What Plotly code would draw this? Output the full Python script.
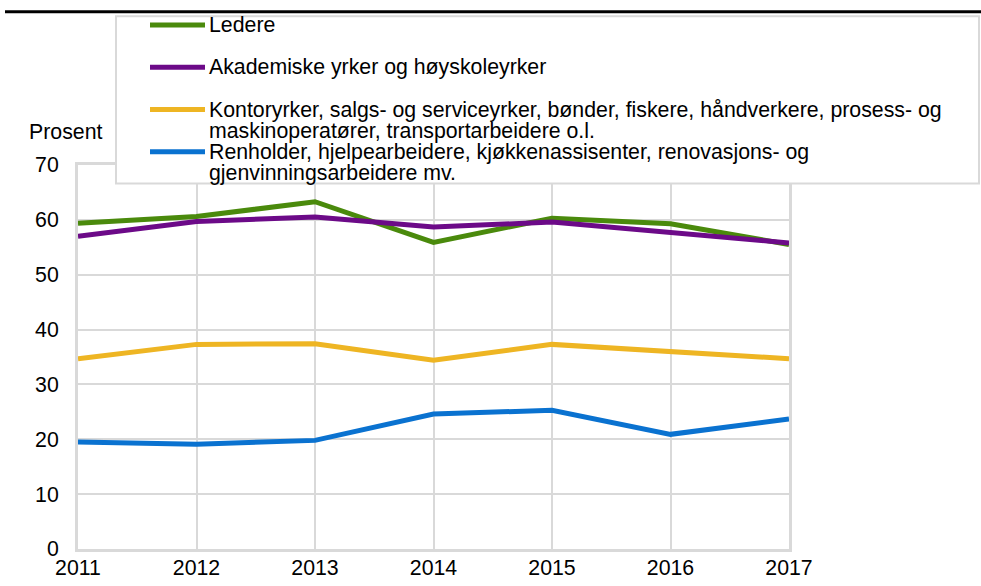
import plotly.graph_objects as go

# ---------------- data ----------------
years = [2011, 2012, 2013, 2014, 2015, 2016, 2017]
ledere = [59.4, 60.6, 63.3, 55.9, 60.3, 59.3, 55.5]
akademiske = [57.0, 59.7, 60.5, 58.7, 59.6, 57.6, 55.8]
kontor = [34.7, 37.3, 37.4, 34.4, 37.3, 36.1, 34.7]
renholder = [19.5, 19.1, 19.8, 24.6, 25.3, 20.9, 23.7]

series_labels = [
    "Ledere",
    "Akademiske yrker og høyskoleyrker",
    "Kontoryrker, salgs- og serviceyrker, bønder, fiskere, håndverkere, prosess- og<br>maskinoperatører, transportarbeidere o.l.",
    "Renholder, hjelpearbeidere, kjøkkenassisenter, renovasjons- og<br>gjenvinningsarbeidere mv.",
]
series_values = [ledere, akademiske, kontor, renholder]
y_ticks = [0, 10, 20, 30, 40, 50, 60, 70]
y_title = "Prosent"

# ---------------- styling ----------------
colors = ["#4A8A0C", "#6C0A88", "#EEB523", "#0A72D0"]
FONT = "Liberation Sans, Arial, sans-serif"
FS = 21.3
GRID = "#D9D9D9"

W, H = 981, 586
L, R, T, B = 78, 789, 164.5, 549  # plot area in pixels


def px(x):
    return (x - L) / (R - L)


def py(y):
    return (B - y) / (B - T)


fig = go.Figure()
for name, vals, col in zip(series_labels, series_values, colors):
    fig.add_trace(go.Scatter(
        x=years, y=vals, mode="lines",
        name=name.replace("<br>", " "),
        line=dict(color=col, width=5),
        showlegend=False,
    ))

shapes = []
annotations = []

# top rule
shapes.append(dict(type="line", xref="paper", yref="paper",
                   x0=px(5), x1=px(981), y0=py(11), y1=py(11),
                   line=dict(color="black", width=3), layer="above"))

# legend box
shapes.append(dict(type="rect", xref="paper", yref="paper",
                   x0=px(116), x1=px(979), y0=py(15.5), y1=py(183),
                   line=dict(color=GRID, width=2), fillcolor="white", layer="above"))

key_y = [24.3, 66.7, 109, 151.3]
line_gap = 21
for i, (name, col) in enumerate(zip(series_labels, colors)):
    yk = key_y[i]
    shapes.append(dict(type="line", xref="paper", yref="paper",
                       x0=px(150), x1=px(205), y0=py(yk), y1=py(yk),
                       line=dict(color=col, width=5), layer="above"))
    for j, part in enumerate(name.split("<br>")):
        annotations.append(dict(
            xref="paper", yref="paper", x=px(207), y=py(yk + j * line_gap),
            xanchor="left", yanchor="middle", text=part, showarrow=False,
            font=dict(family=FONT, size=FS, color="black"),
        ))

# y axis title
annotations.append(dict(
    xref="paper", yref="paper", x=px(65), y=py(131),
    xanchor="center", yanchor="middle", text=y_title, showarrow=False,
    font=dict(family=FONT, size=FS, color="black"),
))

fig.update_layout(
    width=W, height=H,
    margin=dict(l=L, r=W - R, t=T, b=H - B, pad=0, autoexpand=False),
    paper_bgcolor="white", plot_bgcolor="white",
    font=dict(family=FONT, size=FS, color="black"),
    shapes=shapes, annotations=annotations,
    showlegend=False,
)
fig.update_xaxes(
    range=[years[0], years[-1]], tickmode="array", tickvals=years,
    ticktext=[str(y) for y in years],
    showgrid=True, gridcolor=GRID, gridwidth=2,
    showline=True, linecolor=GRID, linewidth=3, mirror=True,
    zeroline=False, ticks="", ticklabelstandoff=-3, automargin=False,
)
fig.update_yaxes(
    range=[0, 70], tickmode="array", tickvals=y_ticks,
    showgrid=True, gridcolor=GRID, gridwidth=2,
    showline=True, linecolor=GRID, linewidth=3, mirror=True,
    zeroline=False, ticks="", ticklabelstandoff=12, automargin=False,
)

fig.write_html(
    "out.html",
    config={"displayModeBar": False},
    post_script="document.body.style.margin='0';document.body.style.overflow='hidden';",
)
